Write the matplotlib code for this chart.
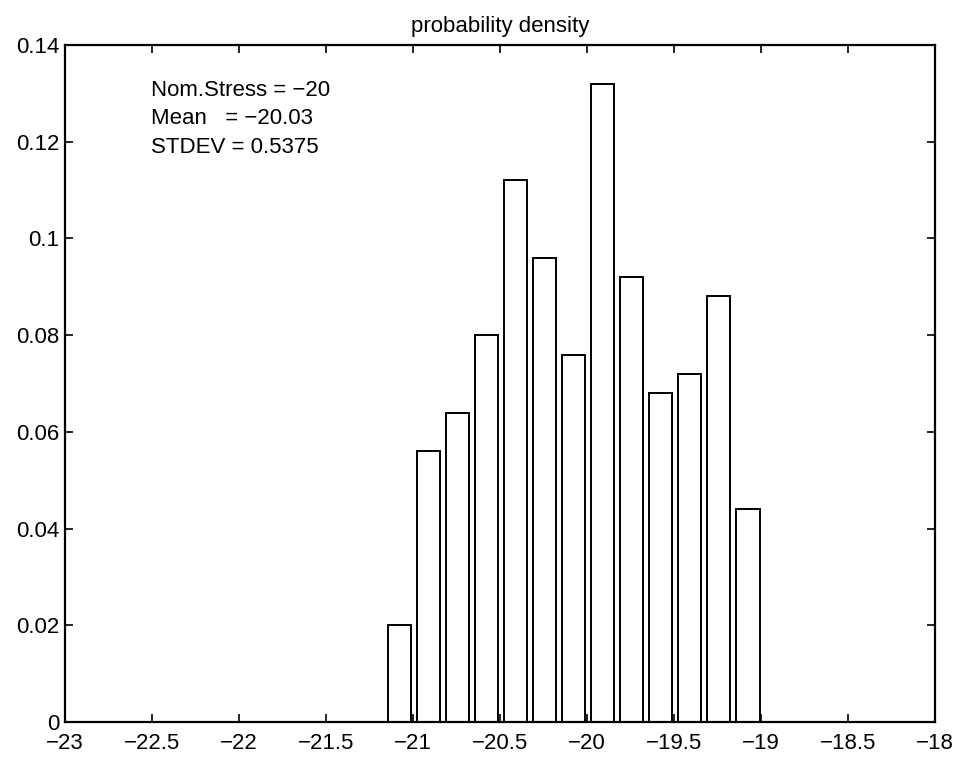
import numpy as np
import matplotlib
matplotlib.use('Agg')
import matplotlib.pyplot as plt

# histogram (relative frequency)
bin_centers = [-21.079, -20.912, -20.745, -20.578, -20.411, -20.244, -20.077,
               -19.910, -19.743, -19.576, -19.409, -19.242, -19.075]
rel_freq = [0.020, 0.056, 0.064, 0.080, 0.112, 0.096, 0.076,
            0.132, 0.092, 0.068, 0.072, 0.088, 0.044]
x_ticks = [-23, -22.5, -22, -21.5, -21, -20.5, -20, -19.5, -19, -18.5, -18]
y_ticks = [0, 0.02, 0.04, 0.06, 0.08, 0.1, 0.12, 0.14]
stats_text = "Nom.Stress = \u221220\nMean   = \u221220.03\nSTDEV = 0.5375"

plt.rcParams['font.family'] = ['Liberation Sans', 'DejaVu Sans']

fig = plt.figure(figsize=(9.56, 7.61), dpi=100)
ax = fig.add_axes([0.068, 0.051, 0.910, 0.890])

step = bin_centers[1] - bin_centers[0]
ax.bar(bin_centers, rel_freq, width=0.8 * step, color='white',
       edgecolor='black', linewidth=1.4)

ax.set_xlim(-23, -18)
ax.set_ylim(0, 0.14)
ax.set_xticks(x_ticks)
ax.set_xticklabels([('%g' % v).replace('-', '\u2212') for v in x_ticks])
ax.set_yticks(y_ticks)
ax.set_yticklabels(['%g' % v for v in y_ticks])
ax.tick_params(direction='in', top=True, right=True, length=6, width=1.2,
               labelsize=16, colors='black')
ax.tick_params(axis='x', pad=8)
ax.tick_params(axis='y', pad=4)
for s in ax.spines.values():
    s.set_linewidth(1.6)

ax.set_title("probability density", fontsize=16, pad=9)
ax.text(0.099, 0.948, stats_text, transform=ax.transAxes, fontsize=16,
        va='top', ha='left', linespacing=1.45)

fig.savefig("out.png", dpi=100)
